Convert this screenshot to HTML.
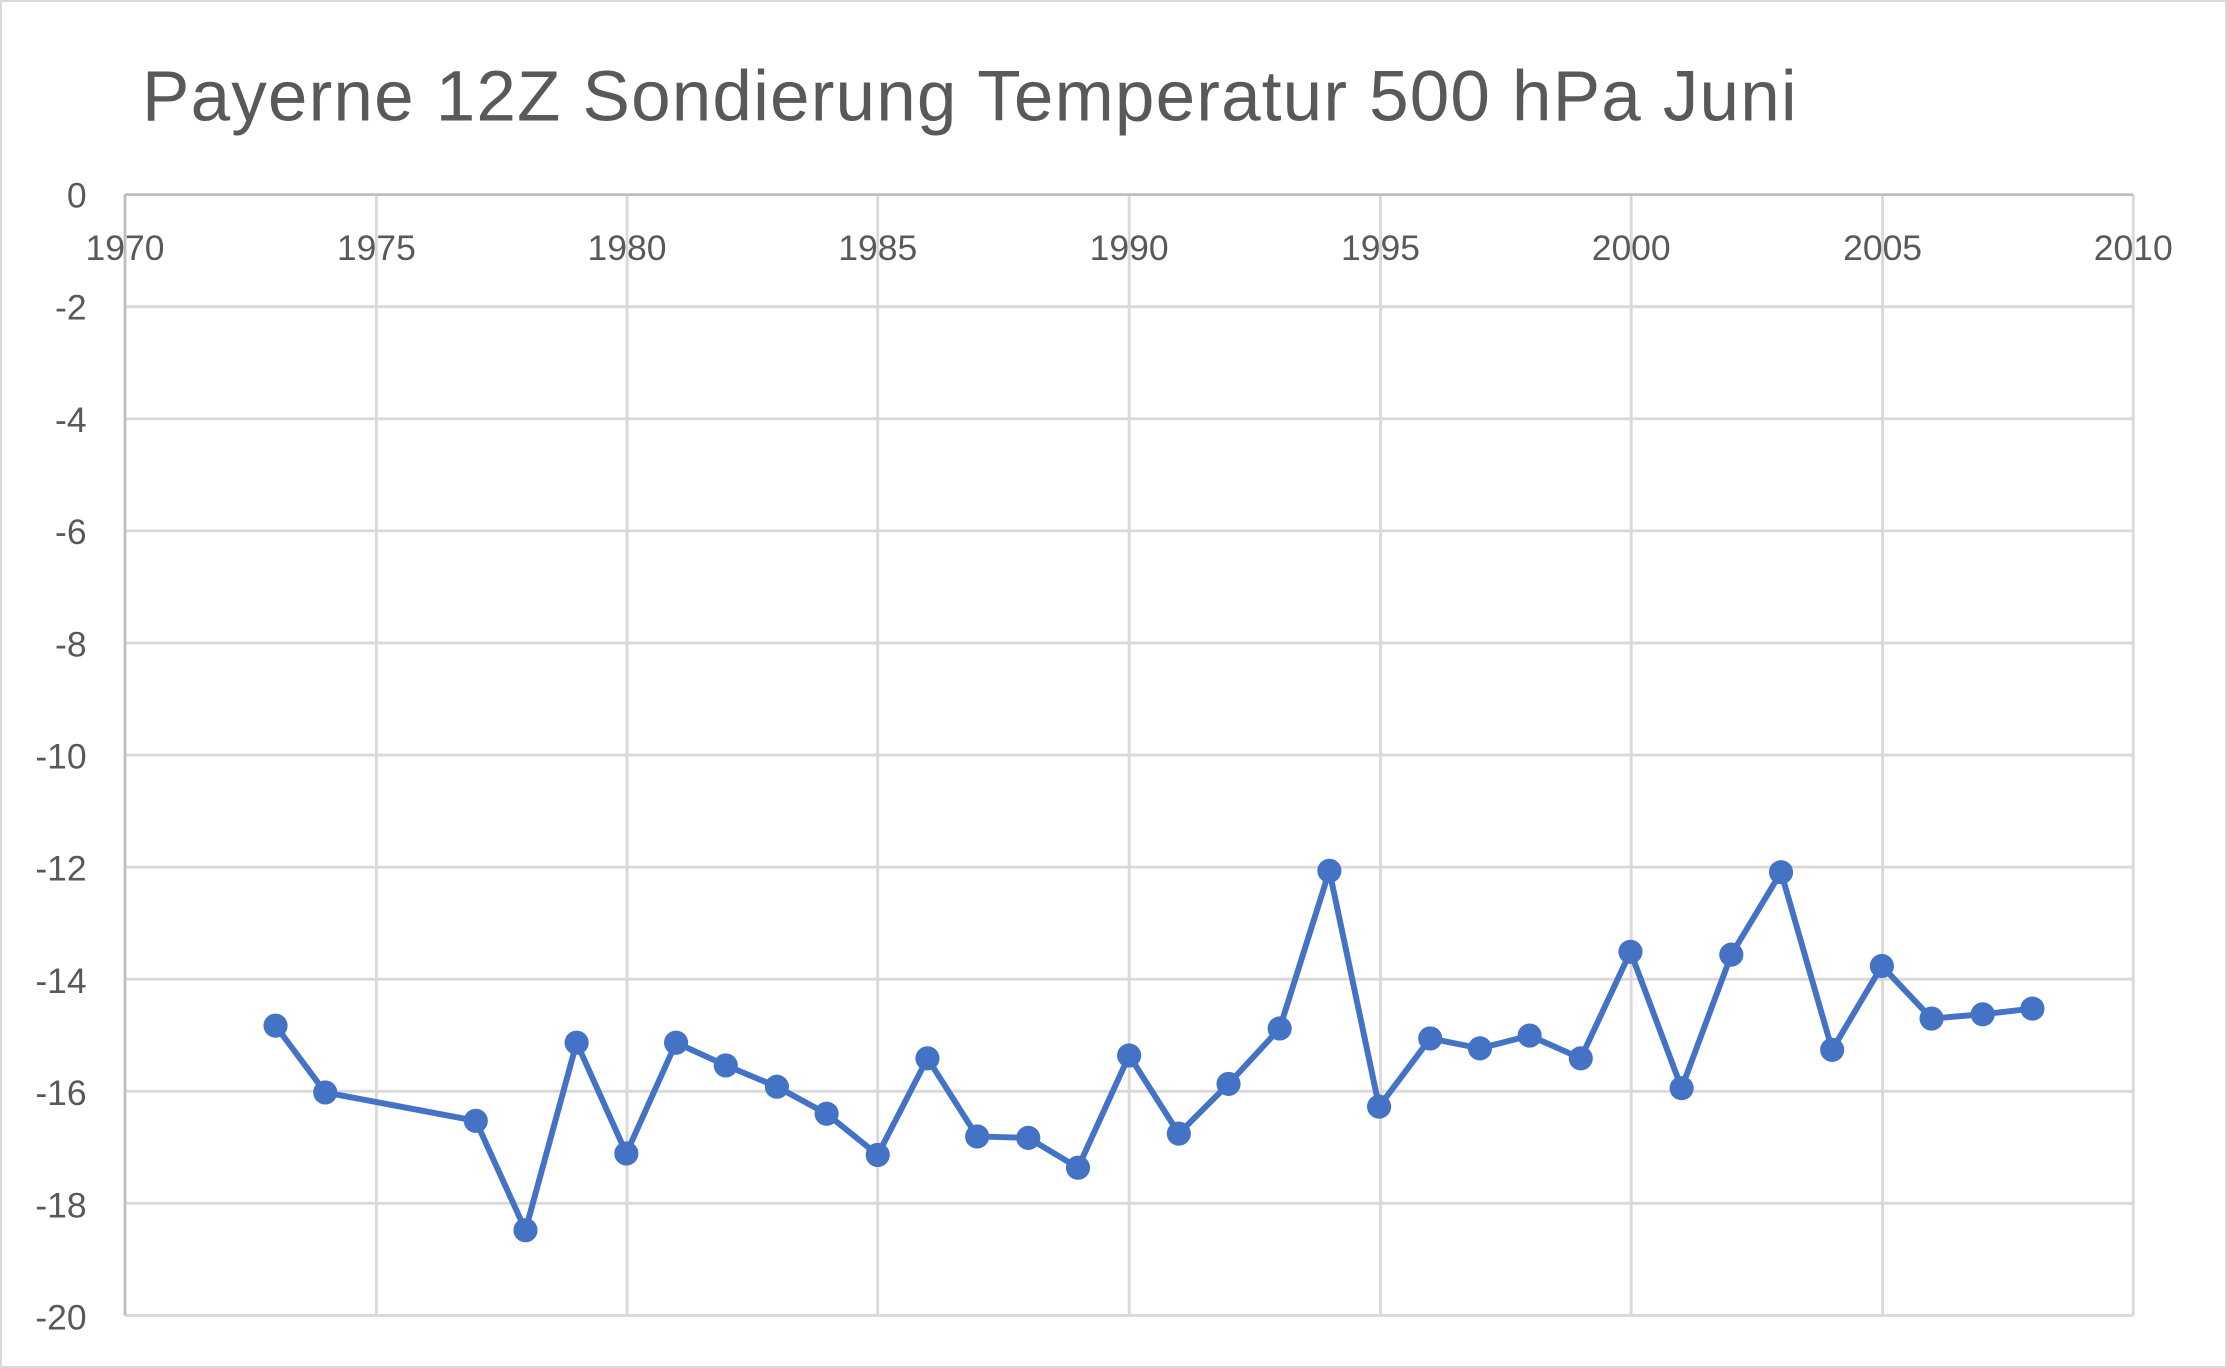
<!DOCTYPE html>
<html><head><meta charset="utf-8"><style>html,body{margin:0;padding:0;background:#fff}svg{display:block}</style></head>
<body>
<svg width="2227" height="1368" viewBox="0 0 1568 963" preserveAspectRatio="none" xmlns="http://www.w3.org/2000/svg" font-family="Liberation Sans, sans-serif">
<rect x="0.7" y="0.7" width="1566.6" height="961.6" fill="#fff" stroke="#d9d9d9" stroke-width="1.4"/>
<text x="100" y="85" font-size="50" fill="#595959" textLength="1165" lengthAdjust="spacing">Payerne 12Z Sondierung Temperatur 500 hPa Juni</text>
<g stroke="#d9d9d9" stroke-width="2">
<line x1="88" y1="215.9" x2="1502" y2="215.9"/><line x1="88" y1="294.8" x2="1502" y2="294.8"/>
<line x1="88" y1="373.7" x2="1502" y2="373.7"/><line x1="88" y1="452.6" x2="1502" y2="452.6"/>
<line x1="88" y1="531.5" x2="1502" y2="531.5"/><line x1="88" y1="610.4" x2="1502" y2="610.4"/>
<line x1="88" y1="689.3" x2="1502" y2="689.3"/><line x1="88" y1="768.2" x2="1502" y2="768.2"/>
<line x1="88" y1="847.1" x2="1502" y2="847.1"/><line x1="88" y1="926" x2="1502" y2="926"/>
<line x1="265" y1="137" x2="265" y2="926"/><line x1="441.5" y1="137" x2="441.5" y2="926"/>
<line x1="618" y1="137" x2="618" y2="926"/><line x1="795" y1="137" x2="795" y2="926"/>
<line x1="972" y1="137" x2="972" y2="926"/><line x1="1148.5" y1="137" x2="1148.5" y2="926"/>
<line x1="1325.5" y1="137" x2="1325.5" y2="926"/><line x1="1502" y1="137" x2="1502" y2="926"/>
</g>
<line x1="88" y1="137" x2="1502" y2="137" stroke="#bfbfbf" stroke-width="2"/>
<line x1="88" y1="137" x2="88" y2="926" stroke="#bfbfbf" stroke-width="2"/>
<g font-size="25" fill="#595959" text-anchor="end">
<text x="61" y="146">0</text><text x="61" y="225">-2</text><text x="61" y="304">-4</text><text x="61" y="383">-6</text>
<text x="61" y="462">-8</text><text x="61" y="541">-10</text><text x="61" y="620">-12</text><text x="61" y="699">-14</text>
<text x="61" y="778">-16</text><text x="61" y="857">-18</text><text x="61" y="936">-20</text>
</g>
<g font-size="25" fill="#595959" text-anchor="middle">
<text x="88" y="183">1970</text><text x="265" y="183">1975</text><text x="441.5" y="183">1980</text><text x="618" y="183">1985</text>
<text x="795" y="183">1990</text><text x="972" y="183">1995</text><text x="1148.5" y="183">2000</text><text x="1325.5" y="183">2005</text><text x="1502" y="183">2010</text>
</g>
<polyline fill="none" stroke="#4472c4" stroke-width="4.2" stroke-linejoin="round" points="194,722 229,769 335,789 370,866 406,734 441,812 476,734 511,750 547,765 582,784 618,813 653,745 688,800 724,801 759,822 795,743 830,798 865,763 901,724 936,613 971,779 1007,731 1042,738 1077,729 1113,745 1148,670 1184,766 1219,672 1254,614 1290,739 1325,680 1360,717 1396,714 1431,710"/>
<g fill="#4472c4">
<circle cx="194" cy="722" r="8.5"/><circle cx="229" cy="769" r="8.5"/><circle cx="335" cy="789" r="8.5"/><circle cx="370" cy="866" r="8.5"/>
<circle cx="406" cy="734" r="8.5"/><circle cx="441" cy="812" r="8.5"/><circle cx="476" cy="734" r="8.5"/><circle cx="511" cy="750" r="8.5"/>
<circle cx="547" cy="765" r="8.5"/><circle cx="582" cy="784" r="8.5"/><circle cx="618" cy="813" r="8.5"/><circle cx="653" cy="745" r="8.5"/>
<circle cx="688" cy="800" r="8.5"/><circle cx="724" cy="801" r="8.5"/><circle cx="759" cy="822" r="8.5"/><circle cx="795" cy="743" r="8.5"/>
<circle cx="830" cy="798" r="8.5"/><circle cx="865" cy="763" r="8.5"/><circle cx="901" cy="724" r="8.5"/><circle cx="936" cy="613" r="8.5"/>
<circle cx="971" cy="779" r="8.5"/><circle cx="1007" cy="731" r="8.5"/><circle cx="1042" cy="738" r="8.5"/><circle cx="1077" cy="729" r="8.5"/>
<circle cx="1113" cy="745" r="8.5"/><circle cx="1148" cy="670" r="8.5"/><circle cx="1184" cy="766" r="8.5"/><circle cx="1219" cy="672" r="8.5"/>
<circle cx="1254" cy="614" r="8.5"/><circle cx="1290" cy="739" r="8.5"/><circle cx="1325" cy="680" r="8.5"/><circle cx="1360" cy="717" r="8.5"/>
<circle cx="1396" cy="714" r="8.5"/><circle cx="1431" cy="710" r="8.5"/>
</g>
</svg>
</body></html>
